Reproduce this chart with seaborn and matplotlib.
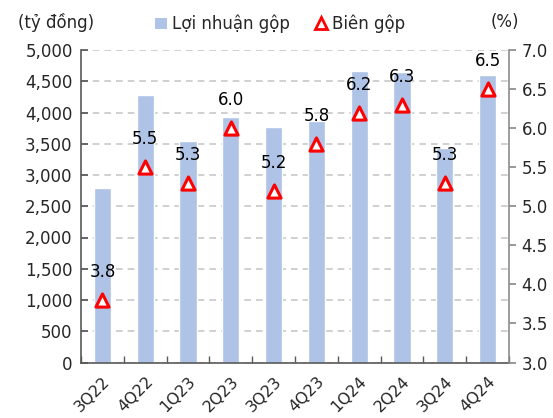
import matplotlib
matplotlib.use("Agg")
import matplotlib.pyplot as plt
import seaborn as sns
import pandas as pd
from matplotlib.ticker import FuncFormatter, MultipleLocator, FixedLocator
from matplotlib.lines import Line2D
from matplotlib.patches import Patch

quarters = ["3Q22", "4Q22", "1Q23", "2Q23", "3Q23", "4Q23", "1Q24", "2Q24", "3Q24", "4Q24"]
gross_profit = [2800, 4280, 3550, 3930, 3770, 3870, 4660, 4650, 3430, 4600]
gross_margin = [3.8, 5.5, 5.3, 6.0, 5.2, 5.8, 6.2, 6.3, 5.3, 6.5]

sns.set_theme(style="white")
plt.rcParams['font.family'] = ['DejaVu Sans']

bar_color = "#AEC3E6"
df = pd.DataFrame({"quarter": quarters, "profit": gross_profit, "margin": gross_margin})

fig = plt.figure(figsize=(5.53, 4.18), dpi=100)
ax = fig.add_axes([81/553, 1-362.5/418, 428/553, 312.5/418])

sns.barplot(data=df, x="quarter", y="profit", color=bar_color, width=0.4,
            saturation=1, ax=ax, zorder=2)
ax.set_xlim(-0.5, len(quarters) - 0.5)
ax.set_ylim(0, 5000)
ax.yaxis.set_major_locator(MultipleLocator(500))
ax.yaxis.set_major_formatter(FuncFormatter(lambda v, p: f"{int(v):,}"))
ax.grid(axis="y", color="#C8C8C8", linestyle=(0, (4, 3)), linewidth=1.2, zorder=0)
ax.set_axisbelow(True)
ax.set_xlabel("")
ax.set_ylabel("")
for s in ["top", "right"]:
    ax.spines[s].set_visible(False)
ax.spines["left"].set_color("#595959")
ax.spines["bottom"].set_color("#595959")
ax.spines["left"].set_linewidth(1.2)
ax.spines["bottom"].set_linewidth(1.2)
ax.tick_params(axis="y", direction="in", length=5, color="#595959", labelsize=12, pad=6, left=True)
ax.xaxis.set_minor_locator(FixedLocator([i - 0.5 for i in range(len(quarters) + 1)]))
ax.tick_params(axis="x", which="both", direction="in", length=5, color="#595959", bottom=True)
ax.tick_params(axis="x", which="major", labelsize=11.5, pad=8)
for lbl in ax.get_xticklabels():
    lbl.set_rotation(45)
    lbl.set_ha("right")
    lbl.set_rotation_mode("anchor")

ax2 = ax.twinx()
ax2.set_ylim(3.0, 7.0)
ax2.yaxis.set_major_locator(MultipleLocator(0.5))
ax2.yaxis.set_major_formatter(FuncFormatter(lambda v, p: f"{v:.1f}"))
sns.scatterplot(data=df, x="quarter", y="margin", marker="^", s=90, color="white",
                edgecolor="#FF0000", linewidth=2.2, ax=ax2, zorder=5, legend=False)
ax2.set_xlim(-0.5, len(quarters) - 0.5)
ax2.set_ylabel("")
ax2.set_xlabel("")
for s in ["top", "left", "bottom"]:
    ax2.spines[s].set_visible(False)
ax2.spines["right"].set_color("#8C8C8C")
ax2.spines["right"].set_linewidth(1.2)
ax2.tick_params(axis="y", direction="out", length=5, color="#8C8C8C", labelsize=12, pad=4, right=True)

for i, v in enumerate(gross_margin):
    ax2.annotate(f"{v:.1f}", (i, v), xytext=(0, 20), textcoords="offset points",
                 ha="center", va="center", fontsize=12, color="black", zorder=6)

fig.text(56/553, 1-22/418, "(tỷ đồng)", ha="center", va="center", fontsize=12)
fig.text(505/553, 1-22/418, "(%)", ha="center", va="center", fontsize=12)

handles = [Patch(facecolor=bar_color, edgecolor="none", label="Lợi nhuận gộp"),
           Line2D([], [], marker="^", linestyle="none", markerfacecolor="white",
                  markeredgecolor="#FF0000", markeredgewidth=2, markersize=8, label="Biên gộp")]
fig.legend(handles=handles, loc="center", bbox_to_anchor=(280/553, 1-24/418), ncol=2,
           frameon=False, fontsize=12, handlelength=0.7, handleheight=0.7,
           handletextpad=0.3, columnspacing=1.5)

fig.savefig("out.png", dpi=100)
